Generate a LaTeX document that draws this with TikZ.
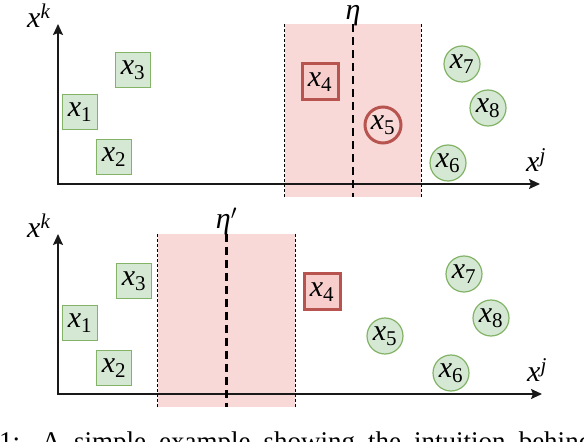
\documentclass[tikz,border=0pt]{standalone}
\usepackage{fontspec}
\setmainfont{Liberation Serif}
\usetikzlibrary{arrows.meta,positioning}
\definecolor{gfill}{HTML}{D5E8D4}
\definecolor{gline}{HTML}{82B366}
\definecolor{rline}{HTML}{B85450}
\definecolor{rfill}{HTML}{F8CECC}
\definecolor{band}{HTML}{F8D9D8}
\newcommand{\xs}[1]{\textit{x}\textsubscript{#1}}
\newcommand{\xsup}[1]{\textit{x}\textsuperscript{\textit{#1}}}

\begin{document}
\begin{tikzpicture}[x=1pt,y=1pt,
  every node/.style={font=\fontsize{30}{36}\selectfont},
  sq/.style={rectangle,draw=gline,fill=gfill,line width=1.2pt,minimum size=35pt,inner sep=0pt},
  sqred/.style={rectangle,draw=rline,fill=rfill,line width=3pt,minimum size=36pt,inner sep=0pt},
  pt/.style={circle,draw=gline,fill=gfill,line width=1.2pt,minimum size=36pt,inner sep=0pt},
  ptred/.style={circle,draw=rline,fill=band,line width=3pt,minimum size=36pt,inner sep=0pt},
  win/.style={rectangle,fill=band,minimum width=136pt,minimum height=173pt,inner sep=0pt},
  bound/.style={line width=0.9pt,dash pattern=on 3pt off 2pt},
  cut/.style={line width=2.8pt,dash pattern=on 8pt off 5pt},
  axis/.style={line width=1.6pt,black!90,{Stealth[length=11pt,width=10pt,inset=2pt]}-{Stealth[length=11pt,width=10pt,inset=2pt]}},
  lbl/.style={anchor=base west,inner sep=0pt}]
\useasboundingbox (0,0) rectangle (584,442);

% top panel
\node[win] (win1) at (353,331.5) {};
\coordinate (o1) at (58,258);
\coordinate (ytop1) at (58,418);
\coordinate (xend1) at (540,258);
\draw[axis] (ytop1) -- (o1) -- (xend1);
\node[lbl] (yk1) at (27,414) {\xsup{k}};
\node[lbl] (xj1) at (526,270) {\xsup{j}};
\draw[bound] (win1.north west) -- (win1.south west);
\draw[bound] (win1.north east) -- (win1.south east);
\draw[cut] (win1.north) -- (win1.south);
\node[anchor=base,inner sep=0pt] (eta) at ([yshift=4pt]win1.north) {\textit{η}};
\node[sq] (a3) at (133,372) {\xs{3}};
\node[sq] (a1) at (80,330) {\xs{1}};
\node[sq] (a2) at (114,285) {\xs{2}};
\node[sqred] (a4) at (320,360) {\xs{4}};
\node[ptred] (a5) at (383,317) {\xs{5}};
\node[pt] (a7) at (462,378) {\xs{7}};
\node[pt] (a8) at (488,334) {\xs{8}};
\node[pt] (a6) at (448,279) {\xs{6}};

% bottom panel
\node[win,minimum width=137pt] (win2) at (226.5,121.5) {};
\coordinate (o2) at (58,48);
\coordinate (ytop2) at (58,208);
\coordinate (xend2) at (542,48);
\draw[axis] (ytop2) -- (o2) -- (xend2);
\node[lbl] (yk2) at (27,204) {\xsup{k}};
\node[lbl] (xj2) at (527,60) {\xsup{j}};
\draw[bound] (win2.north west) -- (win2.south west);
\draw[bound] (win2.north east) -- (win2.south east);
\draw[cut] (win2.north) -- (win2.south);
\node[anchor=base,inner sep=0pt] (etap) at ([yshift=5pt]win2.north) {\textit{η}$^{\prime}$};
\node[sq] (b3) at (134,161) {\xs{3}};
\node[sq] (b1) at (80,119) {\xs{1}};
\node[sq] (b2) at (114,74) {\xs{2}};
\node[sqred] (b4) at (322,150) {\xs{4}};
\node[pt] (b5) at (385,106) {\xs{5}};
\node[pt] (b7) at (464,168) {\xs{7}};
\node[pt] (b8) at (491,124) {\xs{8}};
\node[pt] (b6) at (451,69) {\xs{6}};

% caption, cut off by the page
\node[anchor=base west,inner sep=0pt,font=\fontsize{27}{32}\selectfont] (cap) at (-1,-9)
  {\makebox[593pt][s]{1: A simple example showing the intuition behind}};
\end{tikzpicture}
\end{document}
